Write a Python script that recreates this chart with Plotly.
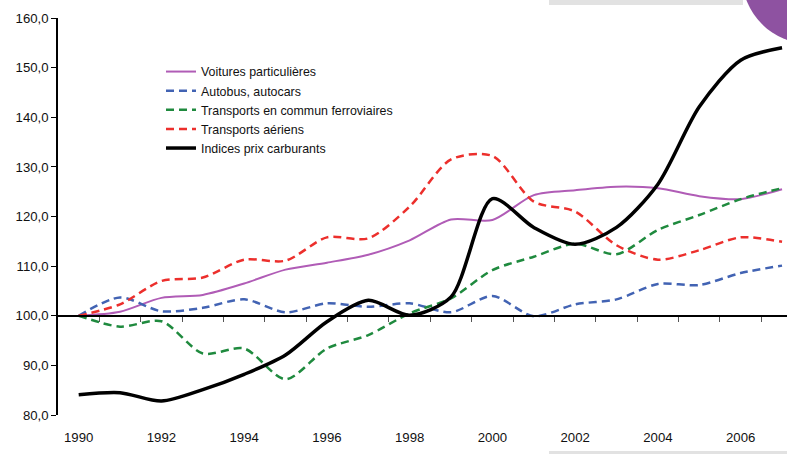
import plotly.graph_objects as go

years = list(range(1990, 2008))

voitures = [100.0, 100.8, 103.6, 104.2, 106.5, 109.3, 110.7, 112.3, 115.2, 119.4,
            119.3, 124.3, 125.3, 126.0, 125.7, 124.1, 123.5, 125.5]
autobus = [100.0, 103.7, 100.9, 101.6, 103.3, 100.7, 102.5, 101.8, 102.5, 100.7,
           104.0, 99.9, 102.3, 103.3, 106.4, 106.2, 108.6, 110.1]
ferroviaires = [100.0, 97.8, 98.9, 92.4, 93.4, 87.2, 93.4, 96.1, 100.5, 103.5,
                109.2, 111.9, 114.5, 112.4, 117.3, 120.3, 123.5, 125.7]
aeriens = [100.0, 102.3, 107.0, 107.7, 111.3, 111.1, 115.8, 115.6, 122.0, 131.5,
           132.2, 123.0, 121.0, 114.2, 111.3, 113.2, 115.8, 114.9]
carburants = [84.1, 84.5, 82.8, 85.1, 88.2, 92.1, 98.8, 103.1, 100.1, 103.8,
              123.6, 117.8, 114.4, 117.8, 126.5, 142.1, 151.5, 154.0]

series = [
    ("Voitures particulières", voitures, "#b05cb6", "solid", 2),
    ("Autobus, autocars", autobus, "#4263b3", "8px,5px", 2.5),
    ("Transports en commun ferroviaires", ferroviaires, "#1f8a3e", "8px,5px", 2.5),
    ("Transports aériens", aeriens, "#ec2f2c", "8px,5px", 2.5),
    ("Indices prix carburants", carburants, "#000000", "solid", 3.5),
]

fig = go.Figure()
for name, vals, color, dash, w in series:
    fig.add_trace(go.Scatter(
        x=years, y=vals, name=name, mode="lines",
        line=dict(color=color, width=w, dash=dash, shape="spline", smoothing=0.8),
        hoverinfo="skip"
    ))

# empty trace so the axis at y=100 gets drawn
fig.add_trace(go.Scatter(x=[], y=[], xaxis="x2", showlegend=False, hoverinfo="skip"))

W, H = 787, 454
L, R, T, B = 58, 0, 18, 39
xr = [1989.5, 2007.12]
yr = [80, 160]

def px(x):
    return (x - L) / (W - L - R)

def py(y):
    return (H - B - y) / (H - B - T)

font = "Liberation Sans, Arial, sans-serif"

fig.update_layout(
    width=W, height=H,
    margin=dict(l=L, r=R, t=T, b=B),
    paper_bgcolor="white", plot_bgcolor="white",
    separators=", ",
    font=dict(family=font, size=12, color="#111"),
    showlegend=True,
    legend=dict(
        x=px(161), y=py(57), xanchor="left", yanchor="top",
        bgcolor="rgba(0,0,0,0)", font=dict(size=12.4, color="#111"),
        itemwidth=30, tracegroupgap=0
    ),
    xaxis=dict(
        range=xr, tickvals=list(range(1990, 2008, 2)),
        showgrid=False, zeroline=False, showline=False,
        ticks="outside", ticklen=10, tickcolor="rgba(0,0,0,0)",
        tickfont=dict(size=13.2)
    ),
    xaxis2=dict(
        range=xr, overlaying="x", anchor="free", position=(100 - yr[0]) / (yr[1] - yr[0]),
        tickvals=[y + 0.5 for y in range(1990, 2007)], showticklabels=False,
        showgrid=False, zeroline=False, showline=True, linecolor="#000", linewidth=1.5,
        ticks="outside", ticklen=5, tickcolor="#555", tickwidth=1
    ),
    yaxis=dict(
        range=yr, tickvals=list(range(80, 161, 10)), tickformat=".1f",
        showgrid=False, zeroline=False, showline=True, linecolor="#000", linewidth=1.5,
        ticks="outside", ticklen=5, tickcolor="#000", tickfont=dict(size=13.2)
    ),
    shapes=[
        dict(type="rect", xref="paper", yref="paper", x0=px(549), x1=px(743), y0=py(5), y1=py(-2),
             fillcolor="#e2e2e2", line_width=0, layer="below"),
        dict(type="rect", xref="paper", yref="paper", x0=px(549), x1=px(790), y0=py(458), y1=py(451),
             fillcolor="#e2e2e2", line_width=0, layer="below"),
        dict(type="circle", xref="paper", yref="paper", x0=px(742), x1=px(878), y0=py(44), y1=py(-92),
             fillcolor="#8e52a1", line_width=0),
    ],
)

fig.write_html(
    "out.html",
    config={"displayModeBar": False},
    post_script="document.body.style.margin='0';document.body.style.overflow='hidden';"
)
